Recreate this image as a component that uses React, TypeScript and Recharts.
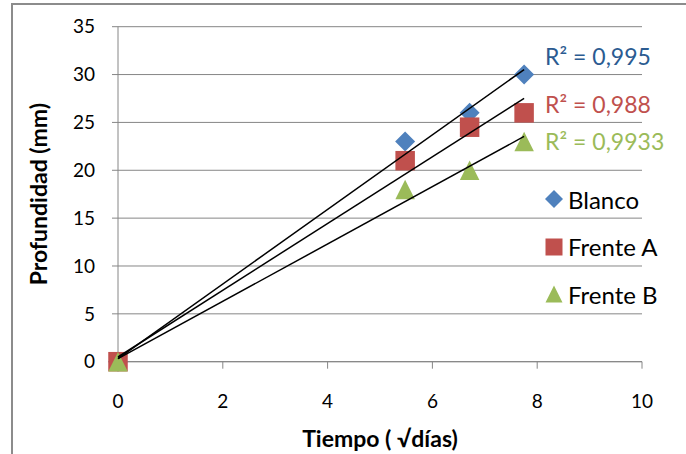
import React from 'react';
import { ScatterChart, Scatter, XAxis, YAxis, CartesianGrid, Legend, ReferenceDot, Label } from 'recharts';

// ---- data ----
const timeSqrtDays = [0, 5.48, 6.71, 7.75];
const blanco = [0, 23, 26, 30];
const frenteA = [0, 21, 24.5, 26];
const frenteB = [0, 18, 20, 23];
const seriesNames = ['Blanco', 'Frente A', 'Frente B'];
const r2Labels = ['0,995', '0,988', '0,9933'];
const xTicks = [0, 2, 4, 6, 8, 10];
const yTicks = [0, 5, 10, 15, 20, 25, 30, 35];

const seriesValues = [blanco, frenteA, frenteB];
const markerColors = ['#4F81BD', '#C0504D', '#9BBB59'];
const r2Colors = ['#2B5B91', '#C0504D', '#9BBB59'];
const FONT = 'Lato, "Open Sans", sans-serif';
const GRID = '#868686';

const toPoints = (ys: number[]) => timeSqrtDays.map((x, i) => ({ x, y: ys[i] }));

// least-squares linear trendline (as Excel draws it)
function trend(xs: number[], ys: number[]) {
  const n = xs.length;
  const mx = xs.reduce((a, b) => a + b, 0) / n;
  const my = ys.reduce((a, b) => a + b, 0) / n;
  let sxx = 0;
  let sxy = 0;
  for (let i = 0; i < n; i++) {
    sxx += (xs[i] - mx) * (xs[i] - mx);
    sxy += (xs[i] - mx) * (ys[i] - my);
  }
  const slope = sxy / sxx;
  const intercept = my - slope * mx;
  const x0 = Math.min(...xs);
  const x1 = Math.max(...xs);
  return [
    { x: x0, y: intercept + slope * x0 },
    { x: x1, y: intercept + slope * x1 },
  ];
}

const trends = seriesValues.map((ys) => trend(timeSqrtDays, ys));

function Marker({ kind, cx, cy, s }: { kind: number; cx: number; cy: number; s: number }) {
  const h = s / 2;
  const fill = markerColors[kind];
  if (kind === 0) {
    return <polygon points={`${cx},${cy - h} ${cx + h},${cy} ${cx},${cy + h} ${cx - h},${cy}`} fill={fill} />;
  }
  if (kind === 1) {
    return <rect x={cx - h} y={cy - h} width={s} height={s} fill={fill} />;
  }
  return <polygon points={`${cx},${cy - h} ${cx + h},${cy + h} ${cx - h},${cy + h}`} fill={fill} />;
}

const R2Label = (props: any) => {
  const vb = props.viewBox || { x: 0, y: 0, width: 0, height: 0 };
  const cx = vb.x + vb.width / 2;
  const cy = vb.y + vb.height / 2;
  return (
    <text x={cx + props.offX} y={cy + props.offY} fill={props.color} fontFamily={FONT} fontSize={23}>
      R² = {props.txt}
    </text>
  );
};

const XTitle = (props: any) => {
  const vb = props.viewBox;
  return (
    <text x={vb.x + vb.width / 2} y={vb.y + 85} textAnchor="middle" fontFamily={FONT} fontWeight={700} fontSize={23} fill="#000">
      Tiempo ( √días)
    </text>
  );
};

const YTitle = (props: any) => {
  const vb = props.viewBox;
  const cy = vb.y + vb.height / 2;
  return (
    <text transform={`translate(47, ${cy}) rotate(-90)`} x={0} y={0} textAnchor="middle" fontFamily={FONT} fontWeight={700} fontSize={23} fill="#000">
      Profundidad (mm)
    </text>
  );
};

const renderLegend = (props: any) => {
  const payload = ((props.payload || []) as any[]).filter((e) => seriesNames.indexOf(e.value) >= 0);
  return (
    <div style={{ fontFamily: FONT, fontSize: 24, color: '#000' }}>
      {payload.map((entry) => {
        const k = seriesNames.indexOf(entry.value);
        return (
          <div key={entry.value} style={{ display: 'flex', alignItems: 'center', height: 47.5 }}>
            <svg width={18} height={18} style={{ display: 'block' }}>
              <Marker kind={k} cx={9} cy={9} s={k === 0 ? 18 : 17} />
            </svg>
            <span style={{ marginLeft: 5, lineHeight: 'normal', whiteSpace: 'nowrap' }}>{entry.value}</span>
          </div>
        );
      })}
    </div>
  );
};

const r2Offsets = [
  { offX: 21, offY: -4.5 },
  { offX: 21, offY: 15 },
  { offX: 21, offY: 13.5 },
];

export default function App() {
  return (
    <div style={{ position: 'absolute', left: 0, top: 0, width: 686, height: 454, background: '#fff', overflow: 'hidden' }}>
      <div
        style={{
          position: 'absolute',
          left: 11,
          top: 3,
          width: 720,
          height: 480,
          border: '2px solid #8c8c8c',
          boxSizing: 'border-box',
        }}
      />
      <div style={{ position: 'absolute', left: 0, top: 0 }}>
        <ScatterChart width={686} height={454} margin={{ top: 26.7, right: 44, bottom: 32.3, left: 0 }}>
          <CartesianGrid vertical={false} stroke={GRID} strokeWidth={1} horizontalValues={yTicks} />
          <XAxis
            type="number"
            dataKey="x"
            domain={[0, 10]}
            ticks={xTicks}
            height={60}
            tickSize={7}
            tickMargin={26}
            axisLine={{ stroke: GRID }}
            tickLine={{ stroke: GRID }}
            tick={{ fill: '#000', fontSize: 19, fontFamily: FONT }}
          >
            <Label content={<XTitle />} />
          </XAxis>
          <YAxis
            type="number"
            dataKey="y"
            domain={[0, 35]}
            ticks={yTicks}
            width={118}
            tickSize={6}
            tickMargin={17}
            axisLine={{ stroke: GRID }}
            tickLine={{ stroke: GRID }}
            tick={{ fill: '#000', fontSize: 19, fontFamily: FONT }}
          >
            <Label content={<YTitle />} />
          </YAxis>
          {seriesValues.map((ys, k) => (
            <Scatter
              key={seriesNames[k]}
              name={seriesNames[k]}
              data={toPoints(ys)}
              fill={markerColors[k]}
              isAnimationActive={false}
              shape={(p: any) => <Marker kind={k} cx={p.cx} cy={p.cy} s={k === 0 ? 20 : 19.5} />}
            />
          ))}
          {trends.map((t, k) => (
            <Scatter
              key={'trend-' + k}
              name={'trend-' + k}
              data={t}
              legendType="none"
              line={{ stroke: '#000', strokeWidth: 1.5 }}
              isAnimationActive={false}
              shape={() => <g />}
            />
          ))}
          {trends.map((t, k) => (
            <ReferenceDot
              key={'r2-' + k}
              x={t[1].x}
              y={t[1].y}
              r={1}
              fill="none"
              stroke="none"
              label={<R2Label txt={r2Labels[k]} color={r2Colors[k]} offX={r2Offsets[k].offX} offY={r2Offsets[k].offY} />}
            />
          ))}
          <Legend
            layout="vertical"
            align="center"
            verticalAlign="middle"
            wrapperStyle={{ left: 545, top: 175.5, width: 140 }}
            content={renderLegend}
          />
        </ScatterChart>
      </div>
    </div>
  );
}
